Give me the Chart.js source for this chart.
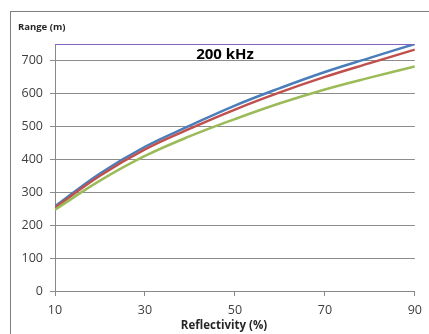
<!DOCTYPE html>
<html>
<head>
<meta charset="utf-8">
<script src="https://cdn.jsdelivr.net/npm/chart.js@4/dist/chart.umd.min.js"></script>
<style>
  html, body { margin: 0; padding: 0; background: #fff; }
  #wrap { position: relative; width: 429px; height: 334px; overflow: hidden; }
  #frame { position: absolute; left: 10px; top: 11px; width: 500px; height: 400px;
           border-left: 1.5px solid #7f7f7f; border-top: 1.5px solid #7f7f7f; }
  canvas { position: absolute; left: 0; top: 0; }
</style>
</head>
<body>
<div id="wrap">
  <div id="frame"></div>
  <canvas id="chart" width="429" height="334"></canvas>
</div>
<script>
const reflectivity = [10, 20, 30, 40, 50, 60, 70, 80, 90];
const rangeBlue  = [257, 357, 438, 502, 563, 616, 665, 708, 750];
const rangeRed   = [253, 350, 430, 493, 551, 603, 650, 692, 733];
const rangeGreen = [247, 335, 410, 470, 522, 570, 612, 648, 682];
const rangeLimit = [750, 750, 750, 750, 750, 750, 750, 750, 750];
const frequencyLabel = '200 kHz';
const yTitle = 'Range (m)';
const xTitle = 'Reflectivity (%)';

const toPoints = vals => vals.map((v, i) => ({ x: reflectivity[i], y: v }));
const lineStyle = { fill: false, tension: 0.4, pointRadius: 0, borderWidth: 2.5 };

const textPlugin = {
    id: 'labels',
    afterDraw(chart) {
        const ctx = chart.ctx;
        ctx.save();
        ctx.fillStyle = '#000';
        ctx.textAlign = 'center';
        ctx.textBaseline = 'middle';
        ctx.font = 'bold 15px "Open Sans"';
        ctx.fillText(frequencyLabel, 225, 55);
        ctx.fillStyle = '#262626';
        ctx.textAlign = 'left';
        ctx.font = 'bold 9.5px "Open Sans"';
        ctx.fillText(yTitle, 18, 27);
        ctx.textAlign = 'center';
        ctx.font = 'bold 11.5px "Open Sans"';
        ctx.fillText(xTitle, 224, 326);
        ctx.restore();
    }
};

new Chart(document.getElementById('chart'), {
    type: 'line',
    data: {
        datasets: [
            { data: toPoints(rangeLimit), borderColor: '#8064c0', ...lineStyle, borderWidth: 1.8, tension: 0 },
            { data: toPoints(rangeGreen), borderColor: '#9bbb59', ...lineStyle },
            { data: toPoints(rangeRed), borderColor: '#c0504d', ...lineStyle },
            { data: toPoints(rangeBlue), borderColor: '#4a7ebb', ...lineStyle }
        ]
    },
    options: {
        responsive: false,
        animation: false,
        layout: { padding: { top: 44, right: 9, left: 0, bottom: 0 } },
        plugins: { legend: { display: false }, tooltip: { enabled: false } },
        scales: {
            x: {
                type: 'linear', min: 10, max: 90,
                ticks: { stepSize: 20, color: '#404040', padding: 7, font: { family: 'Open Sans', size: 12.5 } },
                grid: { drawOnChartArea: false, drawTicks: true, tickLength: 5, color: '#888' },
                border: { display: true, color: '#888', width: 1 },
                afterFit(s) { s.height = 43; }
            },
            y: {
                min: 0, max: 750,
                ticks: { stepSize: 100, includeBounds: false, color: '#404040', padding: 7, font: { family: 'Open Sans', size: 12.5 } },
                grid: { color: '#8c8c8c', tickLength: 5, lineWidth: 1 },
                border: { display: true, color: '#888', width: 1 },
                afterFit(s) { s.width = 55; }
            }
        }
    },
    plugins: [textPlugin]
});
</script>
</body>
</html>
